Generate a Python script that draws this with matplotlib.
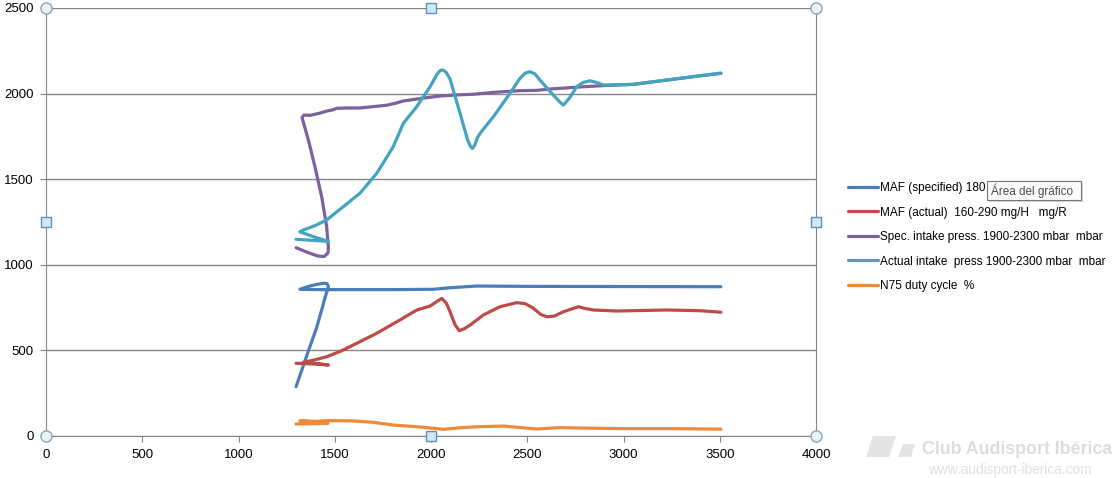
import matplotlib
matplotlib.use('Agg')
import matplotlib.pyplot as plt
from matplotlib.patches import Rectangle, Polygon

plt.rcParams['font.family'] = ['Liberation Sans', 'DejaVu Sans']

# data (rpm vs value)
maf_spec_x = [1299, 1335, 1371, 1405, 1432, 1450, 1467, 1460, 1441, 1400, 1371, 1319,
              1400, 1600, 1800, 2012, 2100, 2237, 2500, 3000, 3506]
maf_spec_y = [288, 405, 522, 630, 736, 810, 872, 890, 892, 884, 876, 857,
              855, 855, 855, 857, 866, 876, 874, 873, 872]

maf_act_x = [1299, 1400, 1467, 1400, 1337, 1400, 1458, 1530, 1597, 1718, 1839, 1926,
             1995, 2030, 2056, 2080, 2099, 2125, 2147, 2175, 2203, 2272, 2358, 2445,
             2490, 2532, 2570, 2601, 2640, 2688, 2766, 2800, 2844, 2965, 3224, 3397, 3506]
maf_act_y = [425, 420, 415, 424, 430, 446, 463, 495, 532, 600, 678, 736,
             759, 785, 804, 775, 726, 650, 615, 628, 648, 707, 755, 779,
             773, 746, 710, 697, 700, 726, 755, 745, 736, 730, 736, 732, 723]

spec_x = [1299, 1360, 1410, 1445, 1465, 1467, 1458, 1432, 1397, 1363, 1330, 1340,
          1371, 1420, 1458, 1490, 1510, 1560, 1631, 1700, 1770, 1820, 1856, 1950,
          2047, 2130, 2218, 2323, 2462, 2549, 2618, 2700, 2790, 2900, 3050, 3224,
          3397, 3506]
spec_y = [1100, 1072, 1052, 1048, 1070, 1100, 1223, 1398, 1573, 1729, 1860, 1875,
          1873, 1885, 1898, 1905, 1914, 1916, 1916, 1924, 1932, 1945, 1957, 1972,
          1986, 1992, 1996, 2007, 2017, 2019, 2027, 2033, 2040, 2047, 2054, 2079,
          2104, 2118]

act_x = [1299, 1380, 1467, 1400, 1319, 1337, 1400, 1458, 1545, 1631, 1718, 1760,
         1804, 1856, 1926, 1995, 2030, 2045, 2056, 2068, 2080, 2099, 2151, 2190,
         2205, 2215, 2228, 2240, 2255, 2324, 2410, 2462, 2490, 2514, 2540, 2566,
         2620, 2670, 2688, 2720, 2757, 2790, 2826, 2860, 2895, 2960, 3051, 3224,
         3397, 3506]
act_y = [1149, 1143, 1137, 1160, 1193, 1203, 1230, 1262, 1340, 1418, 1534, 1610,
         1690, 1826, 1924, 2040, 2110, 2132, 2138, 2134, 2122, 2085, 1885, 1730,
         1692, 1680, 1700, 1740, 1768, 1865, 2001, 2089, 2120, 2128, 2115, 2079,
         2010, 1950, 1933, 1975, 2040, 2065, 2075, 2065, 2050, 2052, 2054, 2079,
         2104, 2120]

n75_x = [1299, 1380, 1465, 1380, 1319, 1400, 1465, 1597, 1700, 1804, 1950, 2064,
         2150, 2237, 2376, 2549, 2670, 2750, 3000, 3250, 3506]
n75_y = [70, 72, 74, 82, 89, 86, 90, 88, 80, 64, 52, 39,
         48, 54, 58, 41, 49, 47, 43, 43, 40]

labels = ['MAF (specified) 180',
          'MAF (actual)  160-290 mg/H   mg/R',
          'Spec. intake press. 1900-2300 mbar  mbar',
          'Actual intake  press 1900-2300 mbar  mbar',
          'N75 duty cycle  %']
colors = ['#4A7EBB', '#BE4B48', '#7D60A0', '#44A3BF', '#EE8A3A']

W, H = 1115, 478
fig = plt.figure(figsize=(W / 100, H / 100), dpi=100)
ax = fig.add_axes([46 / W, 1 - 436 / H, 770 / W, 428 / H])

series = [(maf_spec_x, maf_spec_y), (maf_act_x, maf_act_y), (spec_x, spec_y),
          (act_x, act_y), (n75_x, n75_y)]
for (xs, ys), lab, c in zip(series, labels, colors):
    ax.plot(xs, ys, color=c, lw=2.3, label=lab, solid_joinstyle='round',
            solid_capstyle='round')

ax.set_xlim(0, 4000)
ax.set_ylim(0, 2500)
ax.set_xticks(range(0, 4001, 500))
ax.set_yticks(range(0, 2501, 500))
ax.grid(axis='y', color='#868686', lw=1)
ax.set_axisbelow(True)
for s in ax.spines.values():
    s.set_color('#868686')
ax.spines['top'].set_visible(False)
ax.tick_params(length=4, color='#868686', labelsize=9.5, pad=5)

leg = ax.legend(loc='upper left', bbox_to_anchor=(848 / W, 1 - 182 / H),
                bbox_transform=fig.transFigure, frameon=False, fontsize=8.5,
                handlelength=2.5, handletextpad=0.2, labelspacing=1.06,
                borderpad=0, borderaxespad=0)

# Excel selection handles around the plot area
hx = [0, 1, 0, 1]
hy = [1, 1, 0, 0]
ax.plot(hx, hy, 'o', ms=8, mfc='#E8F3F8', mec='#8AA3B8', mew=1,
        transform=ax.transAxes, clip_on=False, zorder=10)
sx = [0.5, 0, 1, 0.5]
sy = [1, 0.5, 0.5, 0]
ax.plot(sx, sy, 's', ms=7, mfc='#CFEAF6', mec='#5E8FBF', mew=1,
        transform=ax.transAxes, clip_on=False, zorder=10)


def fx(px):
    return px / W


def fy(py):
    return 1 - py / H


# tooltip
fig.patches.append(Rectangle((fx(989), fy(202)), 94 / W, 19 / H, transform=fig.transFigure,
                             facecolor='#D8D8D8', edgecolor='none', zorder=11))
fig.patches.append(Rectangle((fx(987), fy(200)), 94 / W, 19 / H, transform=fig.transFigure,
                             facecolor='#FBFBFB', edgecolor='#767676', lw=0.8, zorder=12))
fig.text(fx(991), fy(190.5), 'Área del gráfico', fontsize=8.5, color='#4C4C4C',
         va='center', ha='left', zorder=13)

# watermark
fig.patches.append(Polygon([(fx(873), fy(436)), (fx(896), fy(436)), (fx(889), fy(457)),
                            (fx(866), fy(457))], closed=True, transform=fig.transFigure,
                           facecolor='#E4E4E4', edgecolor='none'))
fig.patches.append(Polygon([(fx(903), fy(444)), (fx(915), fy(444)), (fx(911), fy(457)),
                            (fx(898), fy(457))], closed=True, transform=fig.transFigure,
                           facecolor='#E4E4E4', edgecolor='none'))
fig.text(fx(1112), fy(450), 'Club Audisport Ibérica', fontsize=12.8, fontweight='bold',
         color='#DCDCDC', ha='right', va='center')
fig.text(fx(1092), fy(470), 'www.audisport-iberica.com', fontsize=9.8,
         color='#E0E0E0', ha='right', va='center')

fig.savefig('out.png', dpi=100)
